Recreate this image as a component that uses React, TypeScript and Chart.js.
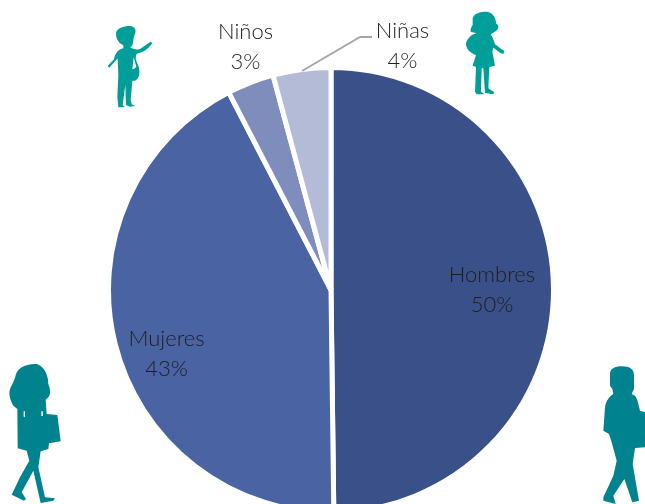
import React, { useEffect, useRef } from "react";
import { Chart, registerables } from "chart.js";

Chart.register(...registerables);

const categories = ["Hombres", "Mujeres", "Niños", "Niñas"];
const values = [49.8, 42.6, 3.4, 4.2];
const percentLabels = ["50%", "43%", "3%", "4%"];
const sliceColors = ["#3A5088", "#4A63A3", "#7F8DBD", "#B4BBD7"];
const labelAnchors = [
  [492, 275],
  [166.5, 339],
  [245.5, 32],
  [402.5, 31],
];

const figures = [
  {
    ox: 90, oy: 10, color: "#009E98",
    d: "M78 70C80 55 100 48 120 48C135 50 140 60 135 72C128 85 132 100 125 108L120 112C135 120 145 122 160 110L182 95L187 100C175 115 165 125 145 130C138 132 137 137 138 150L146 170C151 190 148 205 135 212L127 212L122 270L125 283L136 288L120 290L108 285L106 225L98 285L105 292L85 292L82 260L85 195L83 145C75 155 65 165 58 173L53 168L72 148C75 130 85 118 100 115L100 105C90 103 78 90 78 70ZM131 142L127 178L133 176L139 170Z",
  },
  {
    ox: 450, oy: 5, color: "#009E98",
    d: "M68 40C72 25 90 20 110 20C130 22 138 40 138 55C148 62 148 72 135 80L122 88C130 100 132 110 135 118L155 133L163 138L160 147L150 143L130 128L127 140L135 182L118 186L115 250L133 262L130 268L105 264L100 190L95 190L93 260L103 268L80 268L75 260L78 186L68 182L78 150C60 145 48 130 48 118C50 100 65 88 80 85L62 80C60 72 65 65 68 60Z",
  },
  {
    ox: 0, oy: 354, color: "#00838F",
    d: "M48 60C55 38 85 28 110 30C130 35 145 60 145 90C152 110 155 125 137 137L140 180L172 183L182 262L147 268L145 285L122 292L115 340L135 430L165 433L160 440L122 447L100 350L65 415L78 435L72 440L35 422L60 370L88 320L80 290L53 283L52 165L40 155C28 135 25 115 32 100C38 90 45 75 48 60ZM71 172L71 188L75 188L75 172ZM124 172L124 186L129 186L128 172Z",
  },
  {
    ox: 585, oy: 354, color: "#00838F",
    d: "M75 60C75 45 90 37 110 37C135 37 147 45 147 65L147 105L140 120L150 125C158 135 160 150 165 170L180 175L180 280L150 282L143 330L162 440L142 445L118 375L85 425L92 450L55 440L55 430L85 365L95 320L80 265L72 240L55 230L60 160C62 145 70 130 85 120L82 105L75 95Z",
  },
];

const decorPlugin = {
  id: "decor",
  afterDatasetsDraw(chart: any) {
    const ctx = chart.ctx;
    ctx.save();
    figures.forEach((f) => {
      ctx.save();
      ctx.translate(f.ox, f.oy);
      ctx.scale(1 / 3, 1 / 3);
      ctx.fillStyle = f.color;
      ctx.fill(new Path2D(f.d), "evenodd");
      ctx.restore();
    });
    ctx.strokeStyle = "#A6A6A6";
    ctx.lineWidth = 2;
    ctx.beginPath();
    ctx.moveTo(302, 71);
    ctx.lineTo(360, 37);
    ctx.lineTo(372, 37);
    ctx.stroke();
    ctx.fillStyle = "#1E1E1E";
    ctx.font = '300 22px Lato';
    ctx.textAlign = "center";
    ctx.textBaseline = "middle";
    categories.forEach((c, i) => {
      const [x, y] = labelAnchors[i];
      ctx.fillText(c, x, y);
      ctx.fillText(percentLabels[i], x, y + 30);
    });
    ctx.restore();
  },
};

export default function App() {
  const ref = useRef<HTMLCanvasElement>(null);
  useEffect(() => {
    const chart = new Chart(ref.current!, {
      type: "pie",
      data: {
        labels: categories,
        datasets: [
          {
            data: values,
            backgroundColor: sliceColors,
            borderColor: "#FFFFFF",
            borderWidth: 5,
            radius: 222.5,
            clip: false,
          } as any,
        ],
      },
      options: {
        responsive: false,
        animation: false,
        layout: { padding: { left: 17, top: 76 } },
        plugins: { legend: { display: false }, tooltip: { enabled: false } },
      },
      plugins: [decorPlugin],
    });
    return () => chart.destroy();
  }, []);
  return (
    <canvas
      ref={ref}
      width={645}
      height={504}
      style={{ position: "absolute", left: 0, top: 0, display: "block" }}
    />
  );
}
